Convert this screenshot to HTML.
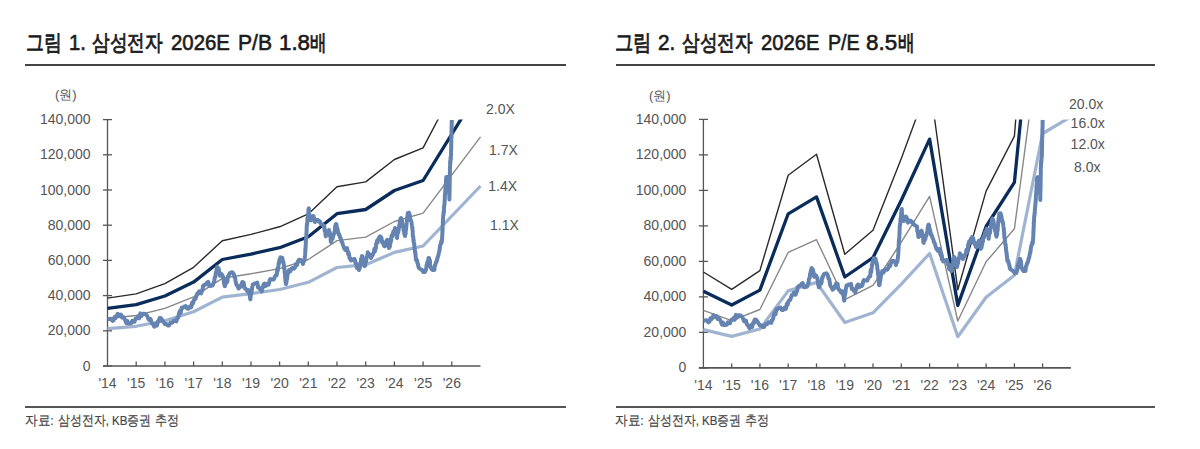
<!DOCTYPE html>
<html><head><meta charset="utf-8">
<style>
html,body{margin:0;padding:0;background:#fff;}
body{width:1200px;height:449px;overflow:hidden;position:relative;font-family:"Liberation Sans",sans-serif;}
.t{position:absolute;top:28px;font-size:22px;line-height:30px;color:#1a1a1a;white-space:nowrap;-webkit-text-stroke:0.6px #1a1a1a;transform-origin:0 0;}
.hr{position:absolute;height:2px;background:#444;}
.f{position:absolute;top:411.5px;font-size:13.5px;line-height:18px;color:#444;-webkit-text-stroke:0.2px #444;white-space:nowrap;transform-origin:0 0;}
.kb{-webkit-text-stroke:0.85px #1a1a1a;}
svg{position:absolute;left:0;top:0;}
svg text{font-family:"Liberation Sans",sans-serif;}
</style></head><body>
<span class="t kb" style="left:25.63px;transform:scaleX(0.8122)">그림</span>
<span class="t" style="left:69.08px;transform:scaleX(0.9188)">1.</span>
<span class="t kb" style="left:92.00px;transform:scaleX(0.8011)">삼성전자</span>
<span class="t" style="left:171.00px;transform:scaleX(0.9266)">2026E</span>
<span class="t" style="left:237.63px;transform:scaleX(0.9588)">P/B</span>
<span class="t" style="left:278.99px;transform:scaleX(1.0138)">1.8</span>
<span class="t kb" style="left:309.82px;transform:scaleX(0.7550)">배</span>
<span class="t kb" style="left:614.91px;transform:scaleX(0.8293)">그림</span>
<span class="t" style="left:658.41px;transform:scaleX(0.9412)">2.</span>
<span class="t kb" style="left:682.00px;transform:scaleX(0.8011)">삼성전자</span>
<span class="t" style="left:761.30px;transform:scaleX(0.9172)">2026E</span>
<span class="t" style="left:828.42px;transform:scaleX(0.8943)">P/E</span>
<span class="t" style="left:866.38px;transform:scaleX(1.0200)">8.5</span>
<span class="t kb" style="left:897.92px;transform:scaleX(0.7650)">배</span>
<span class="f" style="left:25.10px;transform:scaleX(0.9000)">자료:</span>
<span class="f" style="left:57.81px;transform:scaleX(0.8508)">삼성전자,</span>
<span class="f" style="left:112.00px;transform:scaleX(0.8511)">KB증권</span>
<span class="f" style="left:154.94px;transform:scaleX(0.8654)">추정</span>
<span class="f" style="left:615.10px;transform:scaleX(0.9000)">자료:</span>
<span class="f" style="left:647.81px;transform:scaleX(0.8508)">삼성전자,</span>
<span class="f" style="left:702.00px;transform:scaleX(0.8511)">KB증권</span>
<span class="f" style="left:744.94px;transform:scaleX(0.8654)">추정</span>
<div class="hr" style="left:25px;width:541px;top:64px"></div>
<div class="hr" style="left:616px;width:539px;top:64px"></div>
<div class="hr" style="left:25px;width:541px;top:406px;height:1.6px;background:#555"></div>
<div class="hr" style="left:616px;width:539px;top:406px;height:1.6px;background:#555"></div>


<svg width="1200" height="449" viewBox="0 0 1200 449">
<clipPath id="cl"><rect x="105.5" y="119.6" width="377.0" height="248.4"/></clipPath>
<g stroke="#555555" stroke-width="1.3" fill="none">
<line x1="107.5" y1="119.6" x2="107.5" y2="366.0"/>
<line x1="103.0" y1="366.0" x2="480.5" y2="366.0" stroke-width="1.6"/>
<line x1="103.0" y1="366.0" x2="112.0" y2="366.0"/>
<line x1="103.0" y1="330.8" x2="112.0" y2="330.8"/>
<line x1="103.0" y1="295.6" x2="112.0" y2="295.6"/>
<line x1="103.0" y1="260.4" x2="112.0" y2="260.4"/>
<line x1="103.0" y1="225.2" x2="112.0" y2="225.2"/>
<line x1="103.0" y1="190.0" x2="112.0" y2="190.0"/>
<line x1="103.0" y1="154.8" x2="112.0" y2="154.8"/>
<line x1="103.0" y1="119.6" x2="112.0" y2="119.6"/>
<line x1="136.2" y1="361.5" x2="136.2" y2="366.0"/>
<line x1="164.9" y1="361.5" x2="164.9" y2="366.0"/>
<line x1="193.6" y1="361.5" x2="193.6" y2="366.0"/>
<line x1="222.3" y1="361.5" x2="222.3" y2="366.0"/>
<line x1="251.0" y1="361.5" x2="251.0" y2="366.0"/>
<line x1="279.6" y1="361.5" x2="279.6" y2="366.0"/>
<line x1="308.3" y1="361.5" x2="308.3" y2="366.0"/>
<line x1="337.0" y1="361.5" x2="337.0" y2="366.0"/>
<line x1="365.7" y1="361.5" x2="365.7" y2="366.0"/>
<line x1="394.4" y1="361.5" x2="394.4" y2="366.0"/>
<line x1="423.1" y1="361.5" x2="423.1" y2="366.0"/>
<line x1="451.8" y1="361.5" x2="451.8" y2="366.0"/>
</g>
<g clip-path="url(#cl)" fill="none" stroke-linejoin="round">
<polyline points="107.5,298.1 136.2,293.9 164.9,283.6 193.6,267.3 222.3,240.7 251.0,234.4 279.6,226.8 308.3,213.9 337.0,186.8 365.7,181.9 394.4,159.5 423.1,147.8 480.5,38.6" stroke="#2a2a2a" stroke-width="1.4"/>
<polyline points="107.5,318.5 136.2,315.5 164.9,308.4 193.6,296.9 222.3,278.3 251.0,273.8 279.6,268.6 308.3,259.5 337.0,240.6 365.7,237.1 394.4,221.5 423.1,213.2 480.5,136.8" stroke="#888888" stroke-width="1.4"/>
<polyline points="107.5,328.7 136.2,326.3 164.9,320.7 193.6,311.7 222.3,297.1 251.0,293.6 279.6,289.5 308.3,282.3 337.0,267.5 365.7,264.7 394.4,252.4 423.1,246.0 480.5,186.0" stroke="#a0b4d2" stroke-width="3.2"/>
<polyline points="107.5,308.3 136.2,304.7 164.9,296.0 193.6,282.1 222.3,259.5 251.0,254.1 279.6,247.7 308.3,236.7 337.0,213.7 365.7,209.5 394.4,190.5 423.1,180.5 480.5,87.7" stroke="#0a2c5a" stroke-width="3.3"/>
<polyline points="107.6,319.1 109.2,318.9 110.9,318.8 112.5,320.9 113.5,320.5 114.6,317.0 115.6,318.0 116.6,316.2 117.7,313.8 118.7,314.7 119.8,315.7 120.9,314.6 122.0,317.4 123.1,316.8 124.1,317.8 125.2,320.3 126.3,323.1 127.4,321.0 128.5,323.6 131.2,323.2 132.3,320.9 133.4,321.5 134.5,321.8 135.6,318.7 136.8,318.2 138.0,316.6 139.1,318.3 140.3,313.4 141.5,316.2 142.7,313.8 143.9,313.8 145.1,314.0 146.3,314.8 147.5,316.5 148.7,319.6 149.9,319.1 150.6,319.0 151.4,322.0 152.1,323.5 152.8,323.6 153.6,325.6 154.3,326.7 155.7,324.2 157.0,325.5 157.5,322.1 158.1,321.2 158.6,321.9 159.2,319.3 159.7,318.1 161.1,318.3 162.4,320.1 163.3,321.8 164.1,322.6 165.0,324.1 166.3,323.9 167.7,325.5 169.1,325.4 170.4,322.8 172.1,322.7 173.7,320.8 176.4,321.4 176.8,318.9 177.3,319.1 177.7,317.5 178.1,317.7 178.6,315.7 179.0,313.4 179.8,311.1 180.7,312.9 181.6,307.7 182.4,308.1 184.1,306.7 185.7,306.1 187.1,308.5 188.4,308.7 189.8,306.5 191.1,307.4 191.6,305.9 192.2,302.4 192.7,303.7 193.3,302.6 193.8,300.0 194.7,299.0 195.5,299.0 196.4,296.0 197.3,293.6 198.2,293.8 199.1,291.4 200.1,292.8 201.1,293.4 201.5,292.3 201.9,290.2 202.3,290.5 202.7,289.4 203.1,286.0 204.4,284.8 205.8,284.5 207.1,282.7 208.2,281.9 209.4,285.8 210.5,286.0 211.6,285.3 212.7,285.5 213.8,282.0 214.2,282.0 214.6,278.1 215.0,277.1 215.4,276.9 215.8,272.6 216.1,273.1 216.5,270.3 216.9,268.6 217.3,266.9 217.7,267.4 218.1,269.9 218.6,268.4 219.0,270.3 219.4,272.3 219.9,275.7 220.3,275.4 221.7,274.2 223.0,276.7 223.3,278.0 223.7,280.0 224.0,283.0 224.3,284.3 224.7,286.1 225.0,286.0 225.5,283.7 226.0,283.0 226.5,281.4 226.9,282.4 227.4,281.4 227.9,276.5 228.4,276.7 229.3,273.9 230.1,272.9 231.0,272.7 232.3,272.2 233.7,274.0 234.1,275.5 234.5,277.4 234.9,277.5 235.2,277.9 235.6,281.3 236.0,282.6 236.4,284.7 237.5,285.9 238.6,288.5 239.7,287.4 240.4,286.9 241.1,284.8 241.7,283.9 242.4,282.0 243.1,284.1 243.7,282.7 244.4,287.8 245.0,288.6 245.7,288.7 247.1,291.0 248.4,290.0 248.7,292.9 249.1,292.7 249.4,294.3 249.7,294.5 250.1,298.4 250.4,299.4 250.7,296.0 250.9,294.6 251.2,293.7 251.4,292.0 251.7,291.3 252.0,288.6 252.2,286.9 252.5,286.1 252.7,284.4 253.0,284.7 254.7,283.4 256.4,283.4 257.3,282.6 258.1,287.7 259.0,287.4 259.9,289.2 260.8,288.5 261.7,291.4 262.1,289.0 262.6,288.1 263.0,286.8 263.5,284.4 263.9,286.3 264.4,283.4 265.7,286.0 267.1,284.1 268.4,284.7 269.0,283.3 269.7,280.2 270.4,279.0 271.0,279.4 273.7,279.4 274.6,277.4 275.5,275.7 276.4,275.4 276.7,275.3 277.1,270.8 277.4,268.6 277.7,271.1 278.1,267.7 278.4,266.0 278.7,263.0 279.1,263.3 279.4,259.6 279.7,260.3 280.1,260.9 280.4,257.3 282.4,258.0 282.7,261.1 283.0,261.9 283.3,261.5 283.5,263.5 283.8,264.2 284.1,268.4 284.4,268.7 284.6,270.4 284.7,273.0 284.9,272.5 285.0,273.6 285.2,277.7 285.4,280.0 285.5,281.0 285.7,282.3 285.8,283.9 286.0,284.0 286.3,283.7 286.6,280.0 286.9,279.9 287.2,277.8 287.5,274.9 287.8,273.5 288.1,273.2 288.4,271.7 288.7,272.2 289.0,270.0 290.3,271.3 291.7,268.4 293.0,268.0 294.0,268.6 295.0,267.5 296.0,264.0 297.0,265.0 298.0,261.4 299.0,259.8 300.0,260.0 301.0,260.1 302.0,261.3 303.0,264.0 303.4,261.1 303.8,261.3 304.2,261.0 304.6,259.1 305.0,256.0 305.1,254.5 305.2,253.8 305.3,253.0 305.4,248.4 305.5,249.4 305.5,249.1 305.6,247.1 305.7,245.5 305.8,242.8 305.9,240.0 306.0,241.3 306.1,237.8 306.2,238.4 306.3,237.7 306.4,233.7 306.5,232.3 306.5,233.2 306.6,230.8 306.7,226.9 306.8,225.3 306.9,223.9 307.0,224.0 307.2,224.3 307.3,222.3 307.5,217.9 307.7,219.4 307.9,218.6 308.0,215.7 308.2,212.8 308.4,212.2 308.5,208.9 308.7,209.0 308.9,208.4 309.1,214.2 309.3,214.4 309.4,215.4 309.6,218.8 309.8,218.1 310.0,220.0 311.0,220.3 312.0,218.8 313.0,216.0 313.5,216.2 314.0,217.9 314.5,219.6 315.0,222.0 316.5,219.9 318.0,220.0 319.0,221.7 320.0,221.6 321.0,224.0 322.5,224.6 324.0,226.0 324.3,225.8 324.6,230.7 324.9,229.6 325.1,231.5 325.4,233.5 325.7,236.4 326.0,236.0 326.8,234.2 327.5,234.8 328.2,231.5 329.0,230.0 329.2,231.6 329.5,233.1 329.8,232.4 330.0,235.7 330.2,236.1 330.5,236.8 330.8,241.8 331.0,242.0 331.5,239.2 332.0,239.2 332.5,239.0 333.0,236.9 333.5,234.6 334.0,234.0 334.3,232.7 334.6,231.4 334.9,231.0 335.1,226.6 335.4,227.1 335.7,224.3 336.0,224.0 336.4,224.4 336.9,228.1 337.3,228.3 337.7,230.0 338.1,232.3 338.6,234.4 339.0,234.0 339.5,235.1 340.0,237.2 340.5,238.0 341.0,239.4 341.5,241.5 342.0,242.0 342.5,243.3 343.0,245.1 343.5,246.4 344.0,248.0 345.5,249.9 347.0,248.0 347.4,250.3 347.9,252.5 348.3,254.2 348.7,252.7 349.1,255.4 349.6,258.5 350.0,258.0 351.0,260.5 352.0,260.0 354.0,259.0 354.5,258.9 355.0,260.3 355.5,263.2 356.0,263.1 356.5,265.4 357.0,268.0 358.0,267.1 359.0,270.0 359.3,269.3 359.6,268.4 359.9,267.5 360.2,262.9 360.5,264.0 360.8,262.3 361.1,258.6 361.4,260.5 361.7,259.5 362.0,256.0 362.4,256.2 362.9,260.8 363.3,259.8 363.7,261.7 364.1,265.3 364.6,266.0 365.0,266.0 365.3,263.1 365.7,262.8 366.0,261.7 366.3,259.5 366.7,257.4 367.0,256.5 367.3,256.9 367.7,252.3 368.0,253.0 368.8,254.5 369.5,255.2 370.2,254.6 371.0,258.0 371.8,255.8 372.5,255.5 373.2,253.6 374.0,252.0 374.4,248.7 374.9,251.5 375.3,249.3 375.8,248.7 376.2,243.6 376.7,243.0 377.1,240.6 377.6,242.6 378.0,240.0 379.0,238.0 380.0,236.4 381.0,237.0 381.5,238.2 382.0,241.8 382.5,242.9 383.0,241.9 383.5,243.0 384.0,246.0 384.8,246.3 385.5,243.3 386.2,242.4 387.0,240.0 387.4,239.8 387.8,241.3 388.2,245.6 388.6,246.1 389.0,248.0 389.4,244.6 389.8,246.9 390.1,244.1 390.5,243.3 390.9,238.7 391.2,240.6 391.6,235.6 392.0,236.0 392.5,236.3 393.0,233.1 393.5,231.3 394.0,230.9 394.5,231.2 395.0,228.0 395.3,228.4 395.6,229.2 395.9,232.4 396.1,232.6 396.4,233.4 396.7,235.1 397.0,238.0 397.3,234.6 397.6,233.8 397.9,232.9 398.1,231.4 398.4,232.0 398.7,228.5 399.0,228.0 399.3,225.2 399.6,224.5 399.9,221.6 400.1,221.2 400.4,218.7 400.7,220.5 401.0,218.0 401.4,219.8 401.8,219.8 402.2,222.7 402.6,226.3 403.0,226.0 403.3,225.7 403.6,230.3 403.9,230.0 404.1,231.7 404.4,234.6 404.7,234.1 405.0,236.0 405.2,234.6 405.4,234.0 405.6,233.8 405.8,229.6 405.9,230.3 406.1,228.3 406.3,226.5 406.5,224.1 406.7,222.4 406.9,219.7 407.1,218.6 407.2,216.9 407.4,218.4 407.6,214.8 407.8,213.0 408.0,213.0 409.0,212.7 410.0,216.0 410.3,218.9 410.6,220.5 410.9,221.0 411.1,220.8 411.4,222.0 411.7,223.7 412.0,226.0 412.2,227.3 412.3,227.5 412.5,230.3 412.7,231.0 412.8,235.5 413.0,237.1 413.2,236.7 413.3,236.9 413.5,241.5 413.7,240.2 413.8,241.9 414.0,244.0 414.2,243.3 414.4,246.4 414.5,248.3 414.7,249.8 414.9,250.0 415.1,252.7 415.3,252.0 415.5,254.6 415.6,255.3 415.8,258.1 416.0,260.0 416.5,259.3 417.0,260.6 417.5,263.1 418.0,264.2 418.5,267.0 419.0,268.0 420.5,269.1 422.0,270.0 423.5,272.1 425.0,272.0 425.4,271.1 425.8,269.8 426.2,268.9 426.6,265.1 427.0,264.0 427.5,261.7 428.0,263.1 428.5,258.0 429.0,258.0 429.3,260.4 429.6,261.5 429.9,260.3 430.1,265.2 430.4,266.9 430.7,267.1 431.0,268.0 432.5,270.0 434.0,270.0 434.4,269.8 434.8,265.2 435.2,265.3 435.6,263.6 436.0,262.0 436.4,262.0 436.9,260.5 437.3,259.2 437.7,256.7 438.1,256.6 438.6,254.2 439.0,252.0 439.4,251.4 439.8,247.8 440.1,245.4 440.5,244.4 440.9,243.9 441.2,241.3 441.6,243.0 442.0,240.0 442.1,238.8 442.1,237.7 442.2,236.3 442.3,235.1 442.4,232.8 442.4,229.2 442.5,231.3 442.6,229.7 442.6,227.2 442.7,225.9 442.8,225.0 442.9,220.9 442.9,222.5 443.0,220.0 443.1,217.5 443.2,215.3 443.4,214.7 443.5,215.3 443.6,211.6 443.7,212.5 443.9,212.1 444.0,208.5 444.1,206.6 444.2,205.6 444.3,205.1 444.5,204.0 444.6,201.9 444.7,200.0 444.8,199.2 444.9,195.3 445.0,194.1 445.1,193.2 445.2,193.9 445.3,190.5 445.4,190.2 445.5,186.4 445.6,185.1 445.7,184.6 445.8,184.9 445.9,183.6 446.0,182.1 446.1,179.0 446.2,178.5 446.3,177.0 449.0,177.0 449.0,178.3 449.1,179.8 449.1,179.7 449.1,184.6 449.1,183.0 449.2,187.9 449.2,189.2 449.2,186.6 449.2,190.0 449.3,193.1 449.3,195.2 449.3,194.4 449.3,195.0 449.4,196.3 449.4,199.0 449.4,199.5 449.5,194.9 449.5,195.1 449.5,191.7 449.5,191.9 449.6,192.4 449.6,187.3 449.6,188.9 449.6,186.1 449.7,186.4 449.7,184.1 449.7,180.6 449.7,182.1 449.8,178.9 449.8,175.4 449.8,173.9 449.8,174.6 449.9,173.0 449.9,170.9 449.9,168.7 449.9,168.2 450.0,166.6 450.0,166.0 450.1,166.1 450.2,160.9 450.4,162.8 450.5,161.7 450.6,157.1 450.8,159.3 450.9,156.9 451.0,154.5 451.0,154.8 451.1,150.7 451.1,149.6 451.1,148.3 451.2,149.5 451.2,146.3 451.2,143.8 451.3,142.7 451.3,140.6 451.3,138.1 451.4,136.9 451.4,138.7 451.4,134.9 451.5,136.3 451.5,131.8 451.5,130.5 451.6,130.1 451.6,127.3 451.6,126.6 451.7,127.8 451.7,126.0 451.7,124.2 451.8,122.0 451.8,120.0" stroke="#6483b0" stroke-width="4.0"/>
</g>
<g fill="#555555" font-size="14" text-anchor="end">
<text x="90.5" y="370.5">0</text>
<text x="90.5" y="335.3">20,000</text>
<text x="90.5" y="300.1">40,000</text>
<text x="90.5" y="264.9">60,000</text>
<text x="90.5" y="229.7">80,000</text>
<text x="90.5" y="194.5">100,000</text>
<text x="90.5" y="159.3">120,000</text>
<text x="90.5" y="124.1">140,000</text>
</g>
<text x="55.0" y="99.0" fill="#555555" font-size="13">(원)</text>
<g fill="#555555" font-size="14" text-anchor="middle">
<text x="107.5" y="387.5">'14</text>
<text x="136.2" y="387.5">'15</text>
<text x="164.9" y="387.5">'16</text>
<text x="193.6" y="387.5">'17</text>
<text x="222.3" y="387.5">'18</text>
<text x="251.0" y="387.5">'19</text>
<text x="279.6" y="387.5">'20</text>
<text x="308.3" y="387.5">'21</text>
<text x="337.0" y="387.5">'22</text>
<text x="365.7" y="387.5">'23</text>
<text x="394.4" y="387.5">'24</text>
<text x="423.1" y="387.5">'25</text>
<text x="451.8" y="387.5">'26</text>
</g>
<g fill="#555555" font-size="14">
<text x="486.0" y="114.0">2.0X</text>
<text x="489.0" y="155.0">1.7X</text>
<text x="488.3" y="191.3">1.4X</text>
<text x="490.0" y="230.0">1.1X</text>
</g>
<clipPath id="cr"><rect x="701.4" y="119.4" width="371.5" height="250.5"/></clipPath>
<g stroke="#555555" stroke-width="1.3" fill="none">
<line x1="703.4" y1="119.4" x2="703.4" y2="367.9"/>
<line x1="698.9" y1="367.9" x2="1070.9" y2="367.9" stroke-width="1.6"/>
<line x1="698.9" y1="367.9" x2="707.9" y2="367.9"/>
<line x1="698.9" y1="332.4" x2="707.9" y2="332.4"/>
<line x1="698.9" y1="296.9" x2="707.9" y2="296.9"/>
<line x1="698.9" y1="261.4" x2="707.9" y2="261.4"/>
<line x1="698.9" y1="225.9" x2="707.9" y2="225.9"/>
<line x1="698.9" y1="190.4" x2="707.9" y2="190.4"/>
<line x1="698.9" y1="154.9" x2="707.9" y2="154.9"/>
<line x1="698.9" y1="119.4" x2="707.9" y2="119.4"/>
<line x1="731.7" y1="363.4" x2="731.7" y2="367.9"/>
<line x1="759.9" y1="363.4" x2="759.9" y2="367.9"/>
<line x1="788.2" y1="363.4" x2="788.2" y2="367.9"/>
<line x1="816.5" y1="363.4" x2="816.5" y2="367.9"/>
<line x1="844.8" y1="363.4" x2="844.8" y2="367.9"/>
<line x1="873.0" y1="363.4" x2="873.0" y2="367.9"/>
<line x1="901.3" y1="363.4" x2="901.3" y2="367.9"/>
<line x1="929.6" y1="363.4" x2="929.6" y2="367.9"/>
<line x1="957.8" y1="363.4" x2="957.8" y2="367.9"/>
<line x1="986.1" y1="363.4" x2="986.1" y2="367.9"/>
<line x1="1014.4" y1="363.4" x2="1014.4" y2="367.9"/>
<line x1="1042.6" y1="363.4" x2="1042.6" y2="367.9"/>
</g>
<g clip-path="url(#cr)" fill="none" stroke-linejoin="round">
<polyline points="703.4,272.0 731.7,289.3 759.9,270.6 788.2,175.3 816.5,154.2 844.8,254.3 873.0,230.2 901.3,158.4 929.6,81.9 957.8,289.8 986.1,191.1 1014.4,136.1 1042.6,-218.2 1070.9,-260.2" stroke="#2a2a2a" stroke-width="1.4"/>
<polyline points="703.4,310.4 731.7,320.7 759.9,309.5 788.2,252.3 816.5,239.7 844.8,299.7 873.0,285.3 901.3,242.2 929.6,196.3 957.8,321.0 986.1,261.8 1014.4,228.8 1042.6,16.3 1070.9,-8.9" stroke="#888888" stroke-width="1.4"/>
<polyline points="703.4,329.6 731.7,336.4 759.9,329.0 788.2,290.9 816.5,282.4 844.8,322.5 873.0,312.8 901.3,284.1 929.6,253.5 957.8,336.7 986.1,297.2 1014.4,275.2 1042.6,133.5 1070.9,116.7" stroke="#a0b4d2" stroke-width="3.2"/>
<polyline points="703.4,291.2 731.7,305.0 759.9,290.1 788.2,213.8 816.5,196.9 844.8,277.0 873.0,257.7 901.3,200.3 929.6,139.1 957.8,305.4 986.1,226.5 1014.4,182.4 1042.6,-101.0 1070.9,-134.6" stroke="#0a2c5a" stroke-width="3.3"/>
<polyline points="703.5,320.6 705.1,320.4 706.7,320.3 708.3,322.4 709.3,322.0 710.4,318.4 711.4,319.4 712.4,317.7 713.4,315.2 714.4,316.2 715.5,317.2 716.6,316.1 717.7,318.9 718.7,318.2 719.8,319.3 720.9,321.8 721.9,324.6 723.0,322.5 724.1,325.1 726.8,324.7 727.8,322.4 728.9,323.0 730.0,323.3 731.1,320.2 732.3,319.7 733.4,318.1 734.6,319.8 735.8,314.9 736.9,317.7 738.1,315.3 739.3,315.2 740.4,315.5 741.6,316.2 742.8,318.0 744.0,321.1 745.2,320.6 745.9,320.5 746.6,323.5 747.3,325.0 748.1,325.1 748.8,327.2 749.5,328.3 750.8,325.7 752.2,327.1 752.7,323.6 753.2,322.8 753.8,323.4 754.3,320.8 754.8,319.6 756.2,319.8 757.5,321.6 758.4,323.3 759.2,324.1 760.1,325.6 761.4,325.5 762.7,327.1 764.0,327.0 765.4,324.3 767.0,324.2 768.6,322.3 771.3,322.9 771.7,320.4 772.1,320.6 772.6,319.0 773.0,319.2 773.4,317.2 773.9,314.9 774.7,312.6 775.5,314.3 776.4,309.1 777.2,309.5 778.8,308.1 780.5,307.5 781.8,309.9 783.1,310.1 784.4,307.9 785.8,308.8 786.3,307.3 786.8,303.8 787.4,305.1 787.9,304.0 788.4,301.3 789.3,300.3 790.1,300.3 791.0,297.3 791.9,294.9 792.8,295.1 793.7,292.7 794.6,294.1 795.6,294.7 796.0,293.5 796.4,291.5 796.8,291.7 797.2,290.7 797.6,287.2 798.9,286.0 800.2,285.7 801.5,283.9 802.7,283.0 803.8,287.0 804.9,287.2 806.0,286.5 807.1,286.7 808.1,283.2 808.5,283.1 808.9,279.3 809.3,278.3 809.7,278.0 810.1,273.7 810.4,274.2 810.8,271.4 811.2,269.7 811.6,268.0 812.0,268.5 812.4,271.0 812.8,269.5 813.3,271.4 813.7,273.4 814.1,276.8 814.5,276.5 815.9,275.3 817.2,277.8 817.5,279.2 817.9,281.2 818.2,284.2 818.5,285.5 818.9,287.3 819.2,287.2 819.7,284.9 820.1,284.2 820.6,282.6 821.1,283.6 821.6,282.5 822.1,277.6 822.5,277.8 823.4,275.1 824.2,274.0 825.1,273.8 826.4,273.3 827.8,275.1 828.1,276.6 828.5,278.6 828.9,278.7 829.3,279.1 829.7,282.5 830.0,283.8 830.4,285.9 831.5,287.1 832.6,289.7 833.7,288.6 834.3,288.1 835.0,286.0 835.7,285.1 836.3,283.2 837.0,285.3 837.6,283.9 838.3,289.0 838.9,289.8 839.6,289.9 840.9,292.3 842.2,291.3 842.6,294.2 842.9,293.9 843.2,295.5 843.6,295.8 843.9,299.7 844.2,300.7 844.5,297.3 844.7,295.8 845.0,295.0 845.2,293.3 845.5,292.6 845.7,289.9 846.0,288.1 846.3,287.3 846.5,285.6 846.8,285.9 848.4,284.6 850.1,284.6 851.0,283.8 851.8,288.9 852.7,288.6 853.6,290.5 854.5,289.8 855.3,292.7 855.8,290.2 856.2,289.3 856.7,288.0 857.1,285.6 857.6,287.5 858.0,284.6 859.3,287.2 860.6,285.3 861.9,285.9 862.6,284.5 863.2,281.4 863.9,280.1 864.5,280.6 867.2,280.6 868.1,278.5 868.9,276.8 869.8,276.5 870.2,276.4 870.5,271.9 870.8,269.7 871.1,272.2 871.5,268.8 871.8,267.0 872.1,264.0 872.5,264.3 872.8,260.6 873.1,261.3 873.4,261.9 873.8,258.3 875.7,259.0 876.0,262.1 876.3,262.9 876.6,262.5 876.9,264.6 877.1,265.2 877.4,269.4 877.7,269.8 877.9,271.5 878.0,274.1 878.2,273.6 878.3,274.7 878.5,278.9 878.7,281.2 878.8,282.1 879.0,283.5 879.1,285.1 879.3,285.2 879.6,284.9 879.9,281.2 880.2,281.0 880.5,278.9 880.8,276.1 881.1,274.6 881.4,274.3 881.7,272.8 881.9,273.3 882.2,271.1 883.6,272.4 884.9,269.5 886.2,269.1 887.2,269.7 888.2,268.5 889.1,265.0 890.1,266.0 891.1,262.4 892.1,260.8 893.1,261.0 894.1,261.1 895.1,262.3 896.0,265.0 896.4,262.1 896.8,262.4 897.2,262.0 897.6,260.1 898.0,257.0 898.1,255.4 898.2,254.7 898.3,253.9 898.4,249.3 898.5,250.3 898.5,250.0 898.6,247.9 898.7,246.3 898.8,243.7 898.9,240.9 899.0,242.1 899.1,238.6 899.2,239.2 899.3,238.5 899.4,234.5 899.4,233.1 899.5,234.0 899.6,231.6 899.7,227.6 899.8,226.0 899.9,224.6 900.0,224.7 900.1,225.0 900.3,223.0 900.5,218.6 900.6,220.1 900.8,219.3 901.0,216.3 901.2,213.4 901.3,212.8 901.5,209.4 901.7,209.6 901.8,209.0 902.0,214.8 902.2,215.0 902.4,216.0 902.6,219.4 902.8,218.8 902.9,220.7 903.9,221.0 904.9,219.4 905.9,216.6 906.4,216.9 906.9,218.5 907.4,220.2 907.9,222.7 909.3,220.5 910.8,220.7 911.8,222.4 912.8,222.3 913.8,224.7 915.3,225.3 916.7,226.7 917.0,226.5 917.3,231.4 917.6,230.4 917.9,232.3 918.1,234.3 918.4,237.1 918.7,236.8 919.4,234.9 920.2,235.6 920.9,232.3 921.7,230.7 921.9,232.4 922.2,233.9 922.4,233.1 922.6,236.5 922.9,236.9 923.1,237.6 923.4,242.7 923.6,242.8 924.1,240.0 924.6,240.0 925.1,239.8 925.6,237.7 926.1,235.3 926.6,234.8 926.9,233.4 927.1,232.1 927.4,231.7 927.7,227.3 928.0,227.8 928.3,225.0 928.6,224.7 929.0,225.1 929.4,228.8 929.8,229.0 930.2,230.7 930.7,233.0 931.1,235.2 931.5,234.8 932.0,235.9 932.5,238.0 933.0,238.8 933.5,240.2 934.0,242.4 934.5,242.8 935.0,244.1 935.5,246.0 935.9,247.3 936.4,248.9 937.9,250.9 939.4,248.9 939.8,251.2 940.2,253.4 940.7,255.2 941.1,253.6 941.5,256.4 941.9,259.5 942.3,259.0 943.3,261.5 944.3,261.0 946.3,260.0 946.8,259.9 947.3,261.3 947.8,264.3 948.3,264.1 948.8,266.4 949.2,269.1 950.2,268.2 951.2,271.1 951.5,270.4 951.8,269.5 952.1,268.6 952.4,263.9 952.7,265.0 953.0,263.3 953.3,259.6 953.6,261.5 953.9,260.4 954.2,257.0 954.6,257.2 955.0,261.9 955.4,260.8 955.9,262.7 956.3,266.3 956.7,267.1 957.1,267.0 957.5,264.1 957.8,263.8 958.1,262.7 958.4,260.5 958.8,258.4 959.1,257.5 959.4,257.8 959.8,253.3 960.1,253.9 960.8,255.4 961.6,256.2 962.3,255.6 963.0,259.0 963.8,256.7 964.5,256.5 965.3,254.5 966.0,252.9 966.4,249.7 966.9,252.4 967.3,250.2 967.8,249.6 968.2,244.5 968.6,243.8 969.1,241.5 969.5,243.4 969.9,240.8 970.9,238.8 971.9,237.2 972.9,237.8 973.4,239.0 973.9,242.7 974.4,243.8 974.9,242.8 975.4,243.8 975.9,246.9 976.6,247.2 977.3,244.2 978.1,243.2 978.8,240.8 979.2,240.6 979.6,242.1 980.0,246.5 980.4,246.9 980.8,248.9 981.1,245.5 981.5,247.8 981.9,245.0 982.3,244.2 982.6,239.5 983.0,241.4 983.4,236.4 983.7,236.8 984.2,237.1 984.7,233.9 985.2,232.0 985.7,231.6 986.2,232.0 986.7,228.7 987.0,229.1 987.3,230.0 987.5,233.2 987.8,233.3 988.1,234.2 988.4,235.9 988.7,238.8 988.9,235.4 989.2,234.6 989.5,233.7 989.8,232.2 990.1,232.8 990.4,229.2 990.6,228.7 990.9,225.9 991.2,225.2 991.5,222.3 991.8,221.9 992.0,219.4 992.3,221.1 992.6,218.6 993.0,220.5 993.4,220.5 993.8,223.4 994.2,227.0 994.6,226.7 994.9,226.4 995.1,231.0 995.4,230.7 995.7,232.4 996.0,235.4 996.3,234.9 996.5,236.8 996.7,235.4 996.9,234.7 997.1,234.6 997.3,230.3 997.5,231.0 997.7,229.0 997.8,227.2 998.0,224.8 998.2,223.1 998.4,220.3 998.6,219.2 998.8,217.5 998.9,219.0 999.1,215.4 999.3,213.6 999.5,213.6 1000.5,213.3 1001.5,216.6 1001.8,219.6 1002.0,221.1 1002.3,221.7 1002.6,221.4 1002.9,222.7 1003.2,224.3 1003.4,226.7 1003.6,228.0 1003.8,228.2 1003.9,231.0 1004.1,231.7 1004.3,236.3 1004.4,237.9 1004.6,237.5 1004.8,237.7 1004.9,242.4 1005.1,241.0 1005.2,242.7 1005.4,244.9 1005.6,244.1 1005.8,247.3 1006.0,249.1 1006.1,250.7 1006.3,250.9 1006.5,253.7 1006.7,252.9 1006.8,255.5 1007.0,256.2 1007.2,259.1 1007.4,261.0 1007.9,260.3 1008.4,261.6 1008.9,264.2 1009.4,265.2 1009.8,268.1 1010.3,269.1 1011.8,270.2 1013.3,271.1 1014.8,273.2 1016.3,273.1 1016.6,272.2 1017.0,270.8 1017.4,269.9 1017.8,266.2 1018.2,265.0 1018.7,262.7 1019.2,264.2 1019.7,258.9 1020.2,259.0 1020.5,261.4 1020.8,262.5 1021.0,261.3 1021.3,266.2 1021.6,267.9 1021.9,268.2 1022.2,269.1 1023.6,271.1 1025.1,271.1 1025.5,270.9 1025.9,266.3 1026.3,266.3 1026.7,264.6 1027.1,263.0 1027.5,263.1 1027.9,261.5 1028.4,260.1 1028.8,257.6 1029.2,257.6 1029.6,255.2 1030.0,252.9 1030.4,252.3 1030.8,248.7 1031.2,246.3 1031.5,245.2 1031.9,244.7 1032.3,242.1 1032.6,243.8 1033.0,240.8 1033.1,239.6 1033.1,238.5 1033.2,237.1 1033.3,235.9 1033.4,233.6 1033.4,230.0 1033.5,232.1 1033.6,230.4 1033.6,227.9 1033.7,226.6 1033.8,225.7 1033.8,221.6 1033.9,223.1 1034.0,220.7 1034.1,218.1 1034.2,215.9 1034.3,215.3 1034.5,215.9 1034.6,212.1 1034.7,213.1 1034.8,212.7 1034.9,209.1 1035.1,207.2 1035.2,206.2 1035.3,205.6 1035.4,204.6 1035.5,202.4 1035.7,200.5 1035.8,199.7 1035.9,195.7 1036.0,194.6 1036.1,193.6 1036.2,194.3 1036.3,190.9 1036.4,190.6 1036.5,186.7 1036.6,185.5 1036.6,185.0 1036.7,185.3 1036.8,183.9 1036.9,182.4 1037.0,179.3 1037.1,178.8 1037.2,177.3 1039.9,177.3 1039.9,178.6 1040.0,180.1 1040.0,180.0 1040.0,185.0 1040.0,183.4 1040.1,188.3 1040.1,189.6 1040.1,187.0 1040.1,190.4 1040.2,193.5 1040.2,195.6 1040.2,194.8 1040.2,195.5 1040.3,196.7 1040.3,199.5 1040.3,200.0 1040.3,195.3 1040.4,195.5 1040.4,192.1 1040.4,192.3 1040.4,192.8 1040.5,187.7 1040.5,189.3 1040.5,186.5 1040.6,186.7 1040.6,184.5 1040.6,180.9 1040.6,182.4 1040.7,179.2 1040.7,175.7 1040.7,174.1 1040.7,174.8 1040.8,173.2 1040.8,171.1 1040.8,168.9 1040.8,168.4 1040.9,166.8 1040.9,166.2 1041.0,166.3 1041.1,161.1 1041.3,163.0 1041.4,161.9 1041.5,157.3 1041.6,159.4 1041.7,157.0 1041.9,154.6 1041.9,154.9 1041.9,150.8 1042.0,149.7 1042.0,148.3 1042.0,149.6 1042.1,146.3 1042.1,143.8 1042.1,142.7 1042.2,140.6 1042.2,138.1 1042.2,136.9 1042.3,138.7 1042.3,134.8 1042.3,136.2 1042.4,131.7 1042.4,130.4 1042.4,130.0 1042.5,127.1 1042.5,126.5 1042.5,127.6 1042.6,125.9 1042.6,124.1 1042.6,121.8 1042.7,119.8" stroke="#6483b0" stroke-width="4.0"/>
</g>
<g fill="#555555" font-size="14" text-anchor="end">
<text x="686.4" y="372.4">0</text>
<text x="686.4" y="336.9">20,000</text>
<text x="686.4" y="301.4">40,000</text>
<text x="686.4" y="265.9">60,000</text>
<text x="686.4" y="230.4">80,000</text>
<text x="686.4" y="194.9">100,000</text>
<text x="686.4" y="159.4">120,000</text>
<text x="686.4" y="123.9">140,000</text>
</g>
<text x="649.0" y="99.5" fill="#555555" font-size="13">(원)</text>
<g fill="#555555" font-size="14" text-anchor="middle">
<text x="703.4" y="389.5">'14</text>
<text x="731.7" y="389.5">'15</text>
<text x="759.9" y="389.5">'16</text>
<text x="788.2" y="389.5">'17</text>
<text x="816.5" y="389.5">'18</text>
<text x="844.8" y="389.5">'19</text>
<text x="873.0" y="389.5">'20</text>
<text x="901.3" y="389.5">'21</text>
<text x="929.6" y="389.5">'22</text>
<text x="957.8" y="389.5">'23</text>
<text x="986.1" y="389.5">'24</text>
<text x="1014.4" y="389.5">'25</text>
<text x="1042.6" y="389.5">'26</text>
</g>
<g fill="#555555" font-size="14">
<text x="1069.0" y="108.5">20.0x</text>
<text x="1070.6" y="127.5">16.0x</text>
<text x="1070.6" y="149.0">12.0x</text>
<text x="1074.0" y="171.5">8.0x</text>
</g>
</svg>
</body></html>
